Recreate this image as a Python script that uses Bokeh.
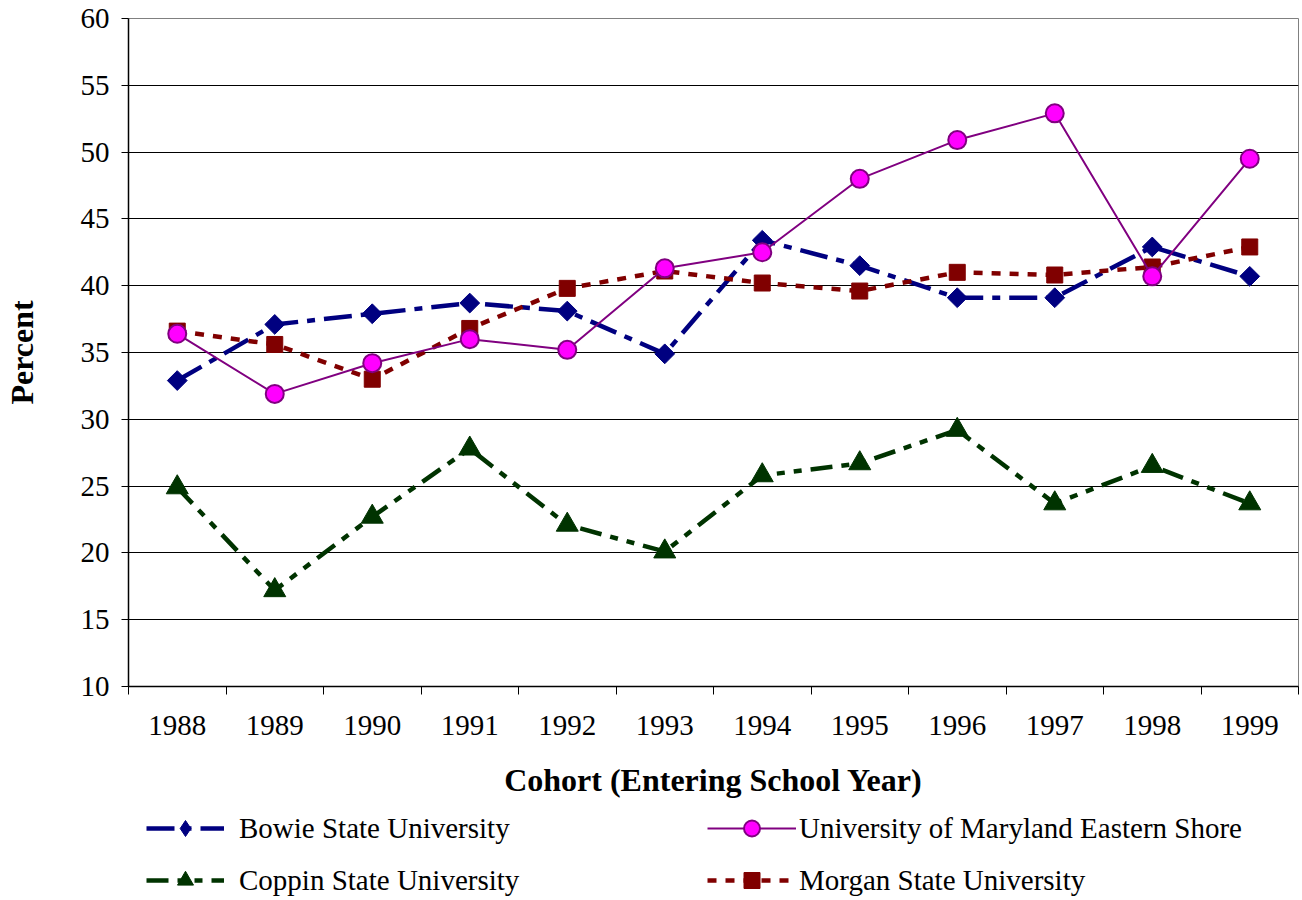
import numpy as np
from bokeh.plotting import figure
from bokeh.layouts import column
from bokeh.models import FixedTicker, Legend, LegendItem, Range1d
from bokeh.embed import file_html
from bokeh.resources import INLINE

years = [1988, 1989, 1990, 1991, 1992, 1993, 1994, 1995, 1996, 1997, 1998, 1999]
bowie = [32.9, 37.1, 37.9, 38.7, 38.1, 34.9, 43.4, 41.5, 39.1, 39.1, 42.9, 40.7]
umes = [36.4, 31.9, 34.2, 36.0, 35.2, 41.3, 42.5, 48.0, 50.9, 52.9, 40.7, 49.5]
coppin = [24.9, 17.2, 22.7, 27.8, 22.1, 20.1, 25.8, 26.7, 29.2, 23.7, 26.5, 23.7]
morgan = [36.6, 35.6, 33.0, 36.8, 39.8, 41.1, 40.2, 39.6, 41.0, 40.8, 41.4, 42.9]
y_ticks = [10, 15, 20, 25, 30, 35, 40, 45, 50, 55, 60]
series_names = ["Bowie State University", "Coppin State University",
                "University of Maryland Eastern Shore", "Morgan State University"]

FONT = "Liberation Serif"

p = figure(
    frame_width=1170, frame_height=668,
    min_border_left=127, min_border_top=18, min_border_right=5, min_border_bottom=122,
    x_range=Range1d(years[0] - 0.5, years[-1] + 0.5),
    y_range=Range1d(10, 60),
    output_backend="svg", toolbar_location=None,
)
p.background_fill_color = "white"
p.border_fill_color = "white"
p.outline_line_color = "#808080"
p.outline_line_width = 1

# axes
p.xaxis.ticker = FixedTicker(ticks=years, minor_ticks=[y - 0.5 for y in years] + [years[-1] + 0.5])
p.xaxis.major_tick_out = 0
p.xaxis.major_tick_in = 0
p.xaxis.minor_tick_out = 8
p.xaxis.minor_tick_in = 0
p.xaxis.minor_tick_line_color = "black"
p.xaxis.axis_line_color = "black"
p.xaxis.axis_line_width = 1.5
p.xaxis.major_label_standoff = 21
p.xaxis.major_label_text_font = FONT
p.xaxis.major_label_text_font_size = "29px"
p.xaxis.major_label_text_color = "black"
p.xaxis.axis_label = "Cohort (Entering School Year)"
p.xaxis.axis_label_text_font = FONT
p.xaxis.axis_label_text_font_style = "bold"
p.xaxis.axis_label_text_font_size = "32px"
p.xaxis.axis_label_text_color = "black"
p.xaxis.axis_label_standoff = 24

p.yaxis.ticker = FixedTicker(ticks=y_ticks, minor_ticks=[])
p.yaxis.major_tick_out = 7
p.yaxis.major_tick_in = 0
p.yaxis.major_tick_line_color = "black"
p.yaxis.axis_line_color = "black"
p.yaxis.axis_line_width = 1.5
p.yaxis.major_label_standoff = 12
p.yaxis.major_label_text_font = FONT
p.yaxis.major_label_text_font_size = "29px"
p.yaxis.major_label_text_color = "black"
p.yaxis.axis_label = "Percent"
p.yaxis.axis_label_text_font = FONT
p.yaxis.axis_label_text_font_style = "bold"
p.yaxis.axis_label_text_font_size = "32px"
p.yaxis.axis_label_text_color = "black"
p.yaxis.axis_label_standoff = 38

p.xgrid.grid_line_color = None
p.ygrid.ticker = FixedTicker(ticks=y_ticks)
p.ygrid.grid_line_color = "black"
p.ygrid.grid_line_width = 1

# styles
NAVY = "#000080"
PURPLE = "#800080"
MAGENTA = "#FF00FF"
GREEN = "#003300"
MAROON = "#800000"

styles = {
    "bowie": dict(line=dict(line_color=NAVY, line_width=4.5, line_dash="28 9 8 9"),
                  mark=dict(marker="square", angle=np.pi / 4, size=14, fill_color=NAVY, line_color=NAVY)),
    "coppin": dict(line=dict(line_color=GREEN, line_width=4.5, line_dash="22 9 8 9 8 9"),
                   mark=dict(marker="triangle", size=22, fill_color=GREEN, line_color=GREEN)),
    "morgan": dict(line=dict(line_color=MAROON, line_width=4.5, line_dash="9 9"),
                   mark=dict(marker="square", size=16, fill_color=MAROON, line_color=MAROON)),
    "umes": dict(line=dict(line_color=PURPLE, line_width=2),
                 mark=dict(marker="circle", size=18, fill_color=MAGENTA, line_color=PURPLE, line_width=2)),
}
# the legend cannot rotate a square, so its sample uses the diamond marker
legend_marks = dict(styles_bowie=dict(marker="diamond", fill_color=NAVY, line_color=NAVY))
data = {"bowie": bowie, "coppin": coppin, "morgan": morgan, "umes": umes}

for key in ["bowie", "coppin", "morgan", "umes"]:
    p.line(years, data[key], **styles[key]["line"])
    p.scatter(years, data[key], **styles[key]["mark"])

# legend strip below the chart (its own renderers lie outside its visible range)
lp = figure(width=1302, height=92, min_border=0,
            x_range=Range1d(0, 1), y_range=Range1d(0, 1),
            output_backend="svg", toolbar_location=None)
lp.axis.visible = False
lp.grid.grid_line_color = None
lp.outline_line_color = None
lp.background_fill_color = "white"
lp.border_fill_color = "white"

def legend_item(label, key):
    r1 = lp.line(years, data[key], **styles[key]["line"])
    mark = legend_marks.get("styles_" + key, styles[key]["mark"])
    r2 = lp.scatter(years, data[key], **mark)
    return LegendItem(label=label, renderers=[r1, r2])

def make_legend(items, x, y, gw, standoff):
    lg = Legend(items=items, location=(x, y), orientation="vertical")
    lg.glyph_width = gw
    lg.glyph_height = 40
    lg.label_standoff = standoff
    lg.label_text_font = FONT
    lg.label_text_font_size = "29px"
    lg.label_text_color = "black"
    lg.spacing = 12
    lg.padding = 0
    lg.margin = 0
    lg.border_line_color = None
    lg.background_fill_alpha = 0
    return lg

leg1 = make_legend([legend_item(series_names[0], "bowie"),
                    legend_item(series_names[1], "coppin")], 18, 0, 78, 15)
leg2 = make_legend([legend_item(series_names[2], "umes"),
                    legend_item(series_names[3], "morgan")], 579, 0, 89, 3)
lp.add_layout(leg1, "center")
lp.add_layout(leg2, "center")

layout = column(p, lp, spacing=0)
open("out.html", "w").write(file_html(layout, INLINE))
